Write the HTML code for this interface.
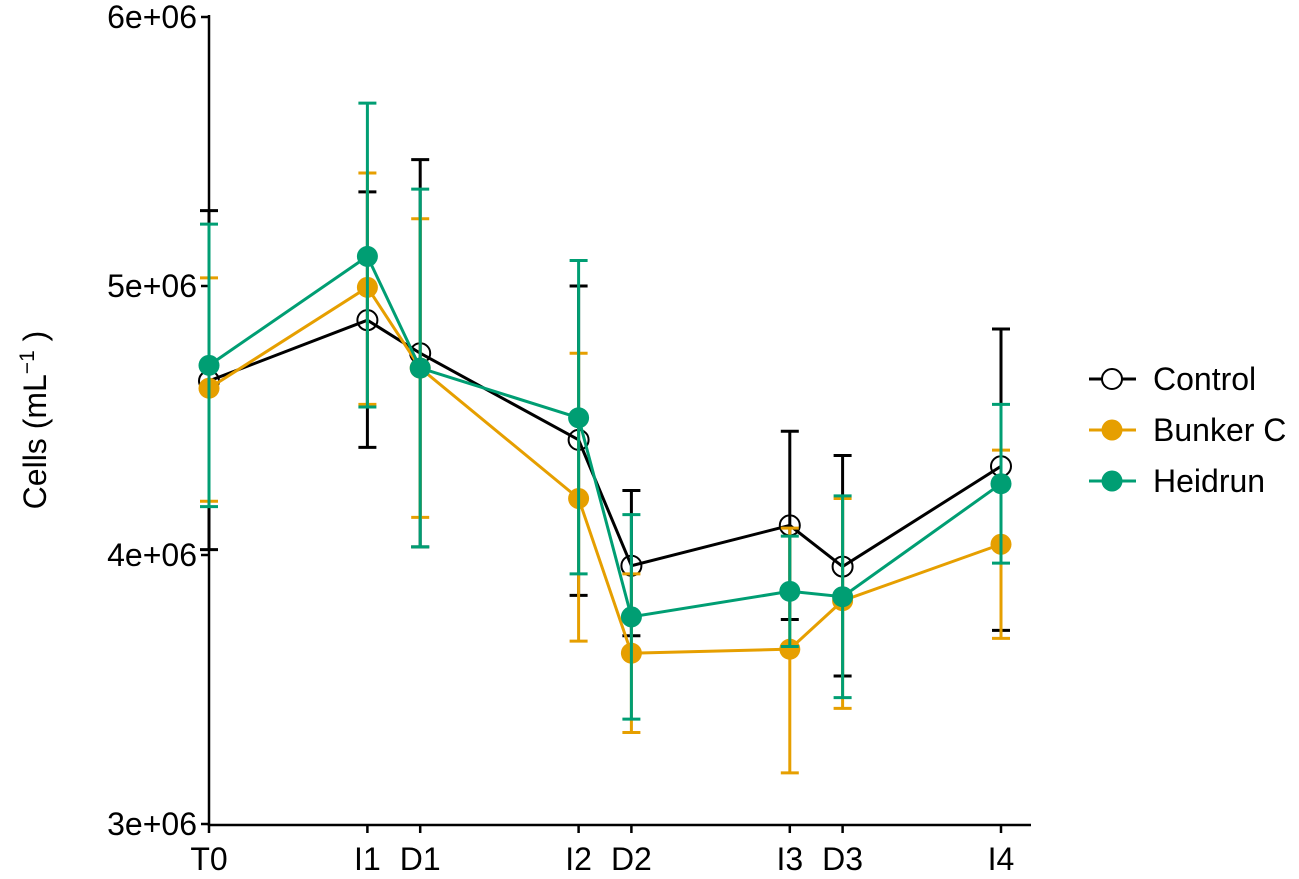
<!DOCTYPE html>
<html><head><meta charset="utf-8"><style>
body{margin:0;background:#fff;}
svg text{font-family:"Liberation Sans",sans-serif;}
</style></head><body>
<svg id="chart" width="1299" height="874" xmlns="http://www.w3.org/2000/svg"></svg>
<script>
const categories = ["T0","I1","D1","I2","D2","I3","D3","I4"];
const xDays = [0,3,4,7,8,11,12,15];
const seriesNames = ["Control","Bunker C","Heidrun"];
const controlMean = [4.647,4.873,4.75,4.428,3.96,4.11,3.957,4.33];
const controlUp = [5.28,5.35,5.47,5.0,4.24,4.46,4.37,4.84];
const controlLo = [4.02,4.40,4.03,3.85,3.70,3.76,3.55,3.72];
const bunkerMean = [4.62,4.995,4.695,4.21,3.635,3.65,3.83,4.04];
const bunkerUp = [5.03,5.42,5.25,4.75,3.93,4.10,4.21,4.39];
const bunkerLo = [4.20,4.56,4.14,3.68,3.34,3.19,3.43,3.69];
const heidMean = [4.705,5.11,4.695,4.51,3.77,3.865,3.845,4.265];
const heidUp = [5.23,5.68,5.36,5.095,4.15,4.07,4.22,4.56];
const heidLo = [4.18,4.55,4.03,3.93,3.39,3.66,3.47,3.97];
const yTicks = [3,4,5,6];
const yTickLabels = ["3e+06","4e+06","5e+06","6e+06"];

const svg=document.getElementById('chart');
const NS='http://www.w3.org/2000/svg';
const X=d=>209+d*52.8;
const Y=v=>824-(v-3)*269;
function mk(tag,attrs,parent){const e=document.createElementNS(NS,tag);for(const k in attrs)e.setAttribute(k,attrs[k]);(parent||svg).appendChild(e);return e;}

const axes=mk('g',{});


mk('line',{x1:209,y1:15,x2:209,y2:826,stroke:'#000','stroke-width':2.5},axes);
mk('line',{x1:208,y1:825,x2:1031,y2:825,stroke:'#000','stroke-width':2.5},axes);
yTicks.forEach((t,i)=>{
  mk('line',{x1:201,y1:Y(t),x2:209,y2:Y(t),stroke:'#000','stroke-width':2.5},axes);
  const tx=mk('text',{x:197,y:Y(t)+11,'text-anchor':'end','font-size':32,fill:'#000'},axes);
  tx.textContent=yTickLabels[i];
  
  
});
categories.forEach((c,i)=>{
  mk('line',{x1:X(xDays[i]),y1:825,x2:X(xDays[i]),y2:833,stroke:'#000','stroke-width':2.5},axes);
  const tx=mk('text',{x:X(xDays[i]),y:870,'text-anchor':'middle','font-size':32,fill:'#000'},axes);
  tx.textContent=c;
  
  
});
const yt=mk('text',{x:0,y:0,transform:'translate(46,420) rotate(-90)','text-anchor':'middle','font-size':32},axes);
yt.innerHTML='Cells (mL<tspan dy="-12" font-size="21">−1</tspan><tspan dy="12"> )</tspan>';



const series=[
 {name:'control',col:'#000',mean:controlMean,up:controlUp,lo:controlLo,open:true},
 {name:'bunker-c',col:'#E69F00',mean:bunkerMean,up:bunkerUp,lo:bunkerLo},
 {name:'heidrun',col:'#009E73',mean:heidMean,up:heidUp,lo:heidLo}
];
series.forEach(s=>{
  const g=mk('g',{});
  
  
  s.mean.forEach((m,i)=>{
    const x=X(xDays[i]);
    mk('line',{x1:x,y1:Y(s.up[i]),x2:x,y2:Y(s.lo[i]),stroke:s.col,'stroke-width':3},g);
    mk('line',{x1:x-9,y1:Y(s.up[i]),x2:x+9,y2:Y(s.up[i]),stroke:s.col,'stroke-width':3},g);
    mk('line',{x1:x-9,y1:Y(s.lo[i]),x2:x+9,y2:Y(s.lo[i]),stroke:s.col,'stroke-width':3},g);
  });
  mk('polyline',{points:s.mean.map((m,i)=>X(xDays[i])+','+Y(m)).join(' '),fill:'none',stroke:s.col,'stroke-width':3},g);
  s.mean.forEach((m,i)=>{
    const c=mk('circle',{cx:X(xDays[i]),cy:Y(m),r:s.open?10:10.5,fill:s.open?'none':s.col,stroke:s.col,'stroke-width':s.open?2:0},g);
    
    
  });
});

const lg=mk('g',{});


series.forEach((s,i)=>{
  const y=379+i*51;
  const e=mk('g',{},lg);
  
  
  mk('line',{x1:1089,y1:y,x2:1136,y2:y,stroke:s.col,'stroke-width':3},e);
  mk('circle',{cx:1112,cy:y,r:s.open?10:10.5,fill:s.open?'#fff':s.col,stroke:s.col,'stroke-width':s.open?2:0},e);
  const t=mk('text',{x:1153,y:y+11,'font-size':32},e);
  t.textContent=seriesNames[i];
});
</script>
</body></html>
